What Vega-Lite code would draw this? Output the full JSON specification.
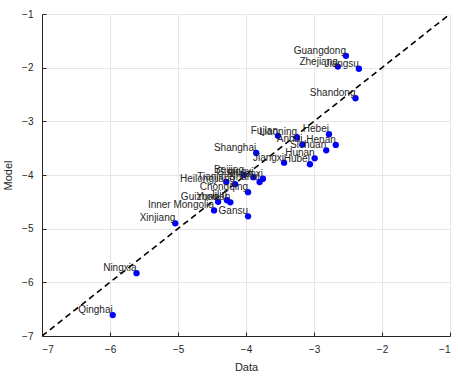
{
  "$schema": "https://vega.github.io/schema/vega-lite/v6.json",
  "width": 408,
  "height": 322,
  "autosize": {"type": "none"},
  "padding": {"left": 42, "top": 14, "right": 8, "bottom": 41},
  "background": "white",
  "config": {
    "view": {"stroke": null},
    "font": "Liberation Sans",
    "axis": {
      "domainColor": "#262626",
      "domainWidth": 1,
      "tickColor": "#262626",
      "tickSize": -4,
      "labelFont": "Liberation Sans",
      "labelFontSize": 10,
      "labelColor": "#262626",
      "titleFont": "Liberation Sans",
      "titleFontSize": 11,
      "titleFontWeight": "normal",
      "titleColor": "#262626",
      "gridColor": "#e6e6e6",
      "gridWidth": 1,
      "format": "d"
    }
  },
  "datasets": {
    "pts": [
      {"name": "Guangdong", "data": -2.53, "model": -1.78},
      {"name": "Jiangsu", "data": -2.34, "model": -2.02},
      {"name": "Zhejiang", "data": -2.65, "model": -1.98},
      {"name": "Shandong", "data": -2.39, "model": -2.57},
      {"name": "Hebei", "data": -2.78, "model": -3.24},
      {"name": "Henan", "data": -2.68, "model": -3.44},
      {"name": "Sichuan", "data": -2.82, "model": -3.54},
      {"name": "Hunan", "data": -2.99, "model": -3.69},
      {"name": "Hubei", "data": -3.06, "model": -3.80},
      {"name": "Anhui", "data": -3.17, "model": -3.43},
      {"name": "Liaoning", "data": -3.25, "model": -3.30},
      {"name": "Fujian", "data": -3.53, "model": -3.27},
      {"name": "Jiangxi", "data": -3.44, "model": -3.77},
      {"name": "Shanghai", "data": -3.85, "model": -3.59},
      {"name": "Shaanxi", "data": -3.75, "model": -4.07},
      {"name": "Shanxi", "data": -3.80, "model": -4.13},
      {"name": "Guangxi", "data": -3.89, "model": -4.04},
      {"name": "Beijing", "data": -4.03, "model": -4.00},
      {"name": "Chongqing", "data": -3.97, "model": -4.32},
      {"name": "Heilongjiang", "data": -4.16, "model": -4.17},
      {"name": "Tianjin", "data": -4.29, "model": -4.13},
      {"name": "Jilin", "data": -4.28, "model": -4.47},
      {"name": "Yunnan", "data": -4.23, "model": -4.51},
      {"name": "Guizhou", "data": -4.41, "model": -4.50},
      {"name": "Inner Mongolia", "data": -4.47, "model": -4.66},
      {"name": "Gansu", "data": -3.97, "model": -4.77},
      {"name": "Xinjiang", "data": -5.04, "model": -4.90},
      {"name": "Ningxia", "data": -5.61, "model": -5.83},
      {"name": "Qinghai", "data": -5.96, "model": -6.61}
    ],
    "diag": [
      {"data": -7, "model": -7},
      {"data": -1, "model": -1}
    ]
  },
  "layer": [
    {
      "data": {"name": "diag"},
      "mark": {"type": "line", "color": "black", "strokeWidth": 1.6, "strokeDash": [6, 4], "clip": true},
      "encoding": {
        "x": {"field": "data", "type": "quantitative", "scale": {"domain": [-7, -1], "nice": false, "zero": false},
          "axis": {"title": "Data", "values": [-7, -6, -5, -4, -3, -2, -1], "labelPadding": 12, "titleY": 25}},
        "y": {"field": "model", "type": "quantitative", "scale": {"domain": [-7, -1], "nice": false, "zero": false},
          "axis": {"title": "Model", "values": [-7, -6, -5, -4, -3, -2, -1], "labelPadding": 13, "titleX": -29, "titleY": 161}}
      }
    },
    {
      "data": {"name": "pts"},
      "mark": {"type": "circle", "color": "#0000ff", "opacity": 1, "size": 40},
      "encoding": {
        "x": {"field": "data", "type": "quantitative"},
        "y": {"field": "model", "type": "quantitative"}
      }
    },
    {
      "data": {"name": "pts"},
      "mark": {"type": "text", "align": "right", "baseline": "bottom", "fontSize": 10, "color": "#262626", "font": "Liberation Sans"},
      "encoding": {
        "x": {"field": "data", "type": "quantitative"},
        "y": {"field": "model", "type": "quantitative"},
        "text": {"field": "name"}
      }
    }
  ]
}
